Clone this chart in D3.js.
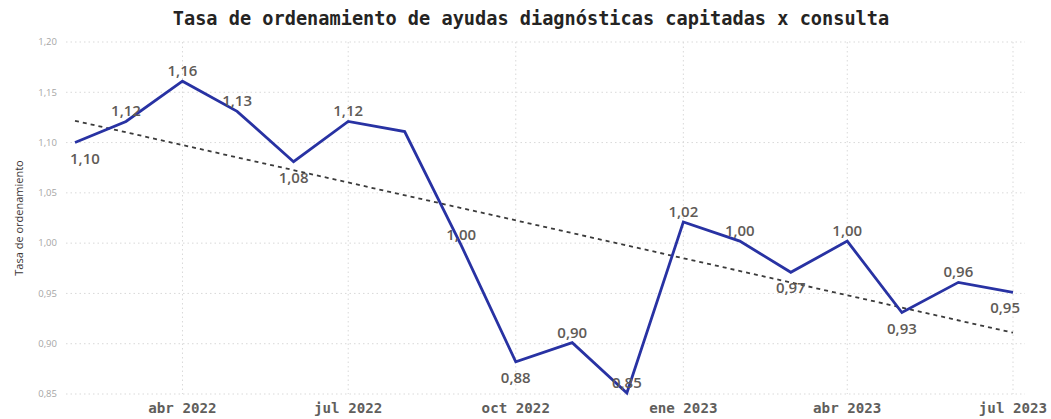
<!DOCTYPE html>
<html>
<head>
<meta charset="utf-8">
<script src="https://cdn.jsdelivr.net/npm/d3@7"></script>
<style>
  body { margin: 0; background: #fff; }
  svg { display: block; }
</style>
</head>
<body>
<div id="chart"></div>
<script>
// monthly values, feb 2022 .. jul 2023
var months = [
  "2022-02", "2022-03", "2022-04", "2022-05", "2022-06", "2022-07",
  "2022-08", "2022-09", "2022-10", "2022-11", "2022-12",
  "2023-01", "2023-02", "2023-03", "2023-04", "2023-05", "2023-06", "2023-07"
];
var tasa = [
  1.100, 1.121, 1.161, 1.131, 1.081, 1.121,
  1.111, 0.998, 0.882, 0.901, 0.851,
  1.021, 1.002, 0.971, 1.002, 0.931, 0.961, 0.951
];
// where power bi put each data label (null = hidden)
var labelPos = [
  "below", "above", "above", "above", "below", "above",
  null, "above", "below", "above", "above",
  "above", "above", "below", "above", "below", "above", "below"
];
var xTickDates = ["2022-04", "2022-07", "2022-10", "2023-01", "2023-04", "2023-07"];
var xTickLabels = ["abr 2022", "jul 2022", "oct 2022", "ene 2023", "abr 2023", "jul 2023"];
var yTicks = [0.85, 0.90, 0.95, 1.00, 1.05, 1.10, 1.15, 1.20];

var width = 1051, height = 419;
var margin = {top: 42, right: 38, bottom: 25, left: 75};

var parseMonth = d3.timeParse("%Y-%m");
var comma = d3.formatLocale({decimal: ",", thousands: ".", grouping: [3], currency: ["", ""]}).format(".2f");

var data = months.map(function(m, i) {
  return {date: parseMonth(m), value: tasa[i], pos: labelPos[i]};
});

var x = d3.scaleTime()
  .domain(d3.extent(data, function(d) { return d.date; }))
  .range([margin.left, width - margin.right]);

var y = d3.scaleLinear()
  .domain([0.85, 1.20])
  .range([height - margin.bottom, margin.top]);

var svg = d3.select("#chart").append("svg")
  .attr("width", width)
  .attr("height", height);

// title
svg.append("text")
  .attr("x", 531)
  .attr("y", 25)
  .attr("text-anchor", "middle")
  .style("font-family", "'DejaVu Sans Mono', monospace")
  .style("font-weight", "bold")
  .style("font-size", "18.6px")
  .style("fill", "#252423")
  .text("Tasa de ordenamiento de ayudas diagnósticas capitadas x consulta");

// horizontal grid
svg.append("g")
  .selectAll("line")
  .data(yTicks)
  .enter().append("line")
  .attr("x1", 66)
  .attr("x2", 1025)
  .attr("y1", function(d) { return y(d); })
  .attr("y2", function(d) { return y(d); })
  .attr("stroke", "#d9d9d9")
  .attr("stroke-width", 1)
  .attr("stroke-dasharray", "1.5,3");

// vertical grid
svg.append("g")
  .selectAll("line")
  .data(xTickDates)
  .enter().append("line")
  .attr("x1", function(d) { return x(parseMonth(d)); })
  .attr("x2", function(d) { return x(parseMonth(d)); })
  .attr("y1", y(1.20))
  .attr("y2", y(0.85))
  .attr("stroke", "#d9d9d9")
  .attr("stroke-width", 1)
  .attr("stroke-dasharray", "1.5,3");

// y axis labels
svg.append("g")
  .selectAll("text")
  .data(yTicks)
  .enter().append("text")
  .attr("x", 57)
  .attr("y", function(d) { return y(d); })
  .attr("dy", "0.35em")
  .attr("text-anchor", "end")
  .style("font-family", "'Open Sans', sans-serif")
  .style("font-size", "9.5px")
  .style("fill", "#a6a6a6")
  .text(function(d) { return comma(d); });

// x axis labels
svg.append("g")
  .selectAll("text")
  .data(xTickDates)
  .enter().append("text")
  .attr("x", function(d) { return x(parseMonth(d)); })
  .attr("y", 413)
  .attr("text-anchor", "middle")
  .style("font-family", "'DejaVu Sans Mono', monospace")
  .style("font-weight", "bold")
  .style("font-size", "14.2px")
  .style("fill", "#605E5C")
  .text(function(d, i) { return xTickLabels[i]; });

// y axis title
svg.append("text")
  .attr("transform", "translate(23," + (y(0.85) + y(1.20)) / 2 + ") rotate(-90)")
  .attr("text-anchor", "middle")
  .style("font-family", "'Open Sans', sans-serif")
  .style("font-size", "11px")
  .style("fill", "#3a3535")
  .text("Tasa de ordenamiento");

// linear trend (least squares on the dates)
var xs = data.map(function(d) { return +d.date; });
var mx = d3.mean(xs), my = d3.mean(tasa);
var sxy = d3.sum(data, function(d) { return (+d.date - mx) * (d.value - my); });
var sxx = d3.sum(xs, function(v) { return (v - mx) * (v - mx); });
var slope = sxy / sxx;
var trend = [data[0].date, data[data.length - 1].date].map(function(dt) {
  return {date: dt, value: my + slope * (+dt - mx)};
});

var line = d3.line()
  .x(function(d) { return x(d.date); })
  .y(function(d) { return y(d.value); });

svg.append("path")
  .datum(trend)
  .attr("d", line)
  .attr("fill", "none")
  .attr("stroke", "#3b3b3b")
  .attr("stroke-width", 1.8)
  .attr("stroke-dasharray", "4,4");

svg.append("path")
  .datum(data)
  .attr("d", line)
  .attr("fill", "none")
  .attr("stroke", "#2832A3")
  .attr("stroke-width", 2.8)
  .attr("stroke-linejoin", "miter");

// data labels
var labels = svg.append("g")
  .selectAll("text")
  .data(data.filter(function(d) { return d.pos; }))
  .enter().append("text")
  .attr("y", function(d) { return d.pos == "above" ? y(d.value) - 5 : y(d.value) + 21; })
  .attr("text-anchor", "middle")
  .style("font-family", "'Open Sans', sans-serif")
  .style("font-weight", "600")
  .style("font-size", "15px")
  .style("fill", "#5f5b57")
  .text(function(d) { return comma(d.value); });

// keep labels inside the plot area
labels.attr("x", function(d) {
  var half = this.getComputedTextLength() / 2;
  return Math.max(70 + half, Math.min(1020 - half, x(d.date)));
});
</script>
</body>
</html>
